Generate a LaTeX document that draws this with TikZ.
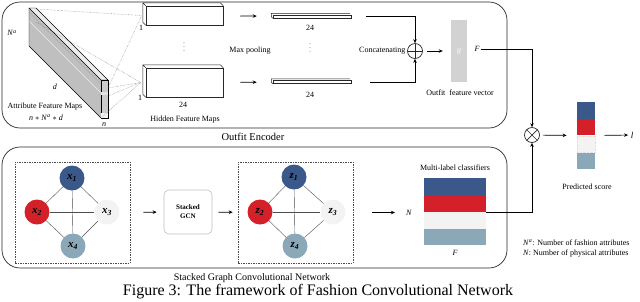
\documentclass[tikz,border=0pt]{standalone}
\usepackage{fontspec}
\setmainfont{Liberation Serif}
\usepackage{tikz}
\usetikzlibrary{positioning,arrows.meta,fit,calc}
\definecolor{azul}{RGB}{58,88,138}
\definecolor{rojo}{RGB}{212,32,40}
\definecolor{celeste}{RGB}{138,168,184}
\definecolor{blanco}{RGB}{243,243,243}
\definecolor{linea}{RGB}{40,40,40}

\begin{document}
\begin{tikzpicture}[x=1pt, y=-1pt,
  panel/.style={draw=linea, line width=0.7pt, rounded corners=18pt,
    minimum width=505pt},
  mapa/.style={draw=linea, fill=white, line width=0.5pt, inner sep=0pt},
  fondo/.style={draw=linea, line width=0.5pt},
  flecha/.style={-{Stealth[length=4pt, width=3.5pt]}, line width=0.7pt},
  punteada/.style={densely dotted, draw=black!60, line width=0.4pt},
  etiqueta/.style={font=\fontsize{8}{9}\selectfont, inner sep=1pt},
  puntos/.style={font=\fontsize{6}{6}\selectfont, inner sep=0pt},
  vertice/.style={circle, minimum size=25pt, inner sep=0pt,
    font=\fontsize{11}{12}\selectfont\bfseries\itshape},
  arista/.style={draw=black!70, line width=0.4pt},
  marco/.style={draw=black!70, dash pattern=on 1.5pt off 1pt,
    line width=0.6pt, minimum width=115pt, minimum height=101pt},
  franja/.style={minimum width=62pt, minimum height=16.5pt, inner sep=0pt},
  celda/.style={minimum width=18pt, minimum height=16.5pt, inner sep=0pt},
  operador/.style={circle, draw=linea, line width=0.7pt, minimum size=15pt,
    inner sep=0pt}
]
\useasboundingbox (0,0) rectangle (640,301);
% Paneles
\node[panel, minimum height=126pt] (enc) at (254.5,65) {};
\node[panel, minimum height=121pt] (gcnp) at (254.5,207.5) {};
\node[font=\fontsize{10.5}{12}\selectfont, inner sep=0pt] (tenc) at (253,137) {Outfit Encoder};
\node[font=\fontsize{10}{11}\selectfont, inner sep=0pt] (tgcn) at (252,278) {Stacked Graph Convolutional Network};
\node[font=\fontsize{16}{18}\selectfont, inner sep=0pt] (cap) at (318,292) {Figure 3: The framework of Fashion Convolutional Network};
% Mapas de atributos
\fill[gray!50] (29,8) -- (101,80) -- (101,118) -- (29,46) -- cycle;
\draw[gray!25, line width=0.8pt] (29,21) -- (101,93);
\draw[gray!65, line width=0.4pt] (29,12) -- (101,84);
\draw[line width=0.4pt] (29,8) -- (29,46) -- (101,118);
\filldraw[fill=gray!15, line width=0.4pt] (29,8) -- (36,8) -- (108,80) -- (101,80) -- cycle;
\filldraw[fill=gray!40, line width=0.4pt] (101,80) rectangle (108,118);
\fill[gray!20] (101.3,92) rectangle (107.7,94.5);
\fill[gray!10] (101.3,113) rectangle (107.7,117.7);
\coordinate (ls) at (36,9);
\coordinate (lb) at (36,22);
\coordinate (lf1) at (108,88);
\coordinate (lf2) at (108,96);
\coordinate (lf3) at (102,117);
\node[etiqueta] (na) at (12,33) {\textit{N}\textsuperscript{\textit{a}}};
\node[etiqueta] (nd) at (55,87) {\textit{d}};
\node[etiqueta] (tam) at (45,107) {Attribute Feature Maps};
\node[etiqueta] (dim) at (46,117.5) {\textit{n} $*$ \textit{N}\textsuperscript{\textit{a}} $*$ \textit{d}};
\node[etiqueta] (nn) at (104,125) {\textit{n}};
% Mapas ocultos
\node[mapa, minimum width=77pt, minimum height=19pt] (hu) at (184.5,15.5) {};
\draw[fondo] (hu.south west) -- ++(-3,-3) |- ([shift={(-3,-3)}]hu.north east) -- (hu.north east)
  (hu.north west) -- ++(-3,-3);
\node[mapa, minimum width=77pt, minimum height=29pt] (hl) at (184.5,82.5) {};
\draw[fondo] (hl.south west) -- ++(-3,-3) |- ([shift={(-3,-3)}]hl.north east) -- (hl.north east)
  (hl.north west) -- ++(-3,-3);
\node[etiqueta] (u1) at (141,28) {1};
\node[etiqueta] (l1) at (140,98) {1};
\node[etiqueta] (l24) at (183,105) {24};
\node[etiqueta] (thm) at (185,120) {Hidden Feature Maps};
\node[puntos] (hdots) at (184,44) {$\vdots$};
\draw[punteada] (ls) -- ([xshift=-4pt]hu.west) -- (lf1);
\draw[punteada] (lb) -- ([xshift=-5pt]hl.west) -- (lf1);
\draw[punteada] (lf2) -- ([xshift=-5pt]hl.west) -- (lf3);
% Max pooling
\node[mapa, minimum width=78pt, minimum height=3pt] (pu) at (312,16.5) {};
\draw[fondo] (pu.south west) -- ++(-1.5,-1.5) |- ([shift={(-1.5,-1.5)}]pu.north east);
\node[mapa, minimum width=78pt, minimum height=3pt] (pl) at (312,82) {};
\draw[fondo] (pl.south west) -- ++(-1.5,-1.5) |- ([shift={(-1.5,-1.5)}]pl.north east);
\node[etiqueta] (p24u) at (310,28) {24};
\node[etiqueta] (p24l) at (310,95) {24};
\node[puntos] (pdots) at (310,45) {$\vdots$};
\node[etiqueta] (tmp) at (250,51) {Max pooling};
\draw[flecha, shorten <=17pt, shorten >=16pt] (hu) -- (pu);
\draw[flecha, shorten <=17pt, shorten >=16pt] (hl) -- (pl);
% Concatenacion y vector del outfit
\node[operador, path picture={\draw[line width=0.7pt]
  (path picture bounding box.north) -- (path picture bounding box.south)
  (path picture bounding box.west) -- (path picture bounding box.east);}] (cat) at (415,51) {};
\node[etiqueta, left=0.5pt of cat] (tcat) {Concatenating};
\draw[flecha] ([xshift=15pt]pu.east) -| (cat.north);
\draw[flecha] ([xshift=19pt]pl.east) -| (cat.south);
\node[fill=gray!35, minimum width=16pt, minimum height=62pt, inner sep=0pt,
  text=white, font=\fontsize{8}{9}\selectfont] (gv) at (459,51) {\textit{g}};
\node[etiqueta] (fF) at (477,49) {\textit{F}};
\node[etiqueta] (tov) at (460,93) {Outfit\ \ feature vector};
\draw[flecha, shorten <=4pt, shorten >=8pt] (cat) -- (gv);
% Prediccion
\node[operador, path picture={\draw[line width=0.7pt]
  (path picture bounding box.north west) -- (path picture bounding box.south east)
  (path picture bounding box.south west) -- (path picture bounding box.north east);}] (mul) at (532,135) {};
\draw[flecha] (fF.east) -| (mul.north);
\node[celda, fill=azul] (s1) at (586,110.25) {};
\node[celda, fill=rojo, below=0pt of s1] (s2) {};
\node[celda, fill=blanco, draw=gray!25, densely dotted, below=0pt of s2] (s3) {};
\node[celda, fill=celeste, below=0pt of s3] (s4) {};
\node[fit=(s1)(s4), inner sep=0pt] (score) {};
\node[etiqueta] (tps) at (587,187) {Predicted score};
\node[font=\fontsize{9}{10}\selectfont, inner sep=1pt] (ll) at (632,135) {\textit{l}};
\draw[flecha, shorten <=3pt, shorten >=10pt] (mul) -- (score);
\draw[flecha, shorten <=9pt, shorten >=1.5pt] (score) -- (ll);
% Grafo de atributos
\node[marco] (gx) at (72.5,212.5) {};
\node[vertice, fill=azul] (x1) at (72,178) {x\textsubscript{1}};
\node[vertice, fill=rojo] (x2) at (37,212) {x\textsubscript{2}};
\node[vertice, fill=blanco] (x3) at (107,212) {x\textsubscript{3}};
\node[vertice, fill=celeste] (x4) at (73,246) {x\textsubscript{4}};
\foreach \a/\b in {x1/x2,x1/x3,x1/x4,x2/x3,x2/x4,x3/x4}
  \draw[arista] (\a) -- (\b);
\node[draw=gray!50, rounded corners=5pt, minimum width=48pt, minimum height=44pt,
  align=center, line width=0.6pt, font=\fontsize{7}{9}\selectfont\bfseries] (gcn) at (188,212) {Stacked\\GCN};
\node[marco] (gz) at (295.5,212.5) {};
\node[vertice, fill=azul] (z1) at (294,177) {z\textsubscript{1}};
\node[vertice, fill=rojo] (z2) at (260,212) {z\textsubscript{2}};
\node[vertice, fill=blanco] (z3) at (333,212) {z\textsubscript{3}};
\node[vertice, fill=celeste] (z4) at (295,246) {z\textsubscript{4}};
\foreach \a/\b in {z1/z2,z1/z3,z1/z4,z2/z3,z2/z4,z3/z4}
  \draw[arista] (\a) -- (\b);
\draw[flecha, shorten <=13pt, shorten >=7pt] (gx) -- (gcn);
\draw[flecha, shorten <=6pt, shorten >=5pt] (gcn) -- (gz);
% Clasificadores
\node[etiqueta] (nN) at (409,212.5) {\textit{N}};
\draw[flecha, shorten <=19pt, shorten >=10pt] (gz) -- (nN);
\node[franja, fill=azul] (c1) at (455,186.5) {};
\node[franja, fill=rojo, below=0pt of c1] (c2) {};
\node[franja, fill=blanco, below=0pt of c2] (c3) {};
\node[franja, fill=celeste, below=0pt of c3] (c4) {};
\node[fit=(c1)(c4), inner sep=0pt] (cls) {};
\node[etiqueta] (tcls) at (455,168) {Multi-label classifiers};
\node[etiqueta] (cF) at (455,253) {\textit{F}};
\draw[flecha] (cls.east) -| (mul.south);
% Leyenda
\node[etiqueta, anchor=west] (ley1) at (522,243) {\textit{N}\textsuperscript{\textit{a}}: Number of fashion attributes};
\node[etiqueta, anchor=west] (ley2) at (522,254) {\textit{N}: Number of physical attributes};
\end{tikzpicture}
\end{document}
